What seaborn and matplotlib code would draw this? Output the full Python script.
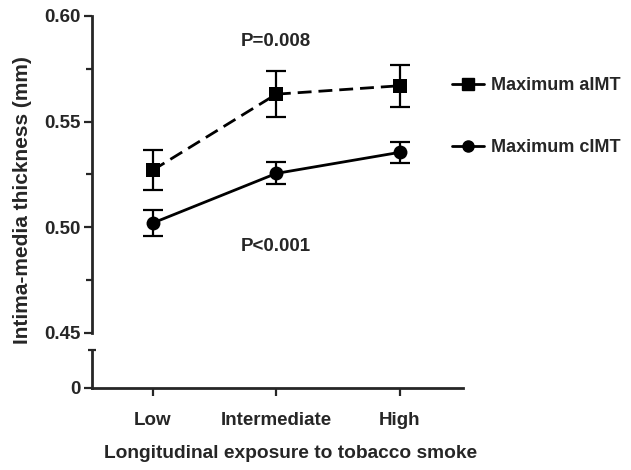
import matplotlib
matplotlib.use("Agg")
import matplotlib.pyplot as plt
import seaborn as sns
import pandas as pd
from matplotlib.lines import Line2D

# data (mean +/- SEM, mm)
exposure = ["Low", "Intermediate", "High"]
aimt_mean = [0.527, 0.563, 0.567]
aimt_err = [0.0095, 0.011, 0.010]
cimt_mean = [0.502, 0.5255, 0.5355]
cimt_err = [0.006, 0.0052, 0.005]
p_labels = ["P=0.008", "P<0.001"]

sns.set_style("ticks")
plt.rcParams["font.family"] = ["Liberation Sans", "DejaVu Sans"]
plt.rcParams["font.weight"] = "bold"

df = pd.DataFrame({
    "exposure": exposure * 2,
    "imt": aimt_mean + cimt_mean,
    "err": aimt_err + cimt_err,
    "series": ["Maximum aIMT"] * 3 + ["Maximum cIMT"] * 3,
})

fig = plt.figure(figsize=(6.31, 4.70), dpi=100)
# broken y axis: upper panel 0.45-0.60, small lower panel holding the 0
ax = fig.add_axes([0.1458, 0.2915, 0.588, 0.6745])
ax_low = fig.add_axes([0.1458, 0.1745, 0.588, 0.0809], sharex=ax)

styles = {"Maximum aIMT": ("s", (0, (5, 2.5))), "Maximum cIMT": ("o", "-")}
for name, sub in df.groupby("series"):
    mk, ls = styles[name]
    sns.lineplot(data=sub, x="exposure", y="imt", ax=ax, color="black",
                 marker=mk, markersize=10, linewidth=2, linestyle=ls,
                 markeredgewidth=0, legend=False, sort=False)
    ax.errorbar(sub["exposure"], sub["imt"], yerr=sub["err"], fmt="none",
                ecolor="black", elinewidth=1.6, capsize=7, capthick=1.6)

ax.set_xlim(-0.49, 2.51)
ax.set_ylim(0.45, 0.60)
ax.set_yticks([0.45, 0.50, 0.55, 0.60])
ax.set_yticklabels(["0.45", "0.50", "0.55", "0.60"])
ax.set_yticks([0.475, 0.525, 0.575], minor=True)
ax.tick_params(axis="y", which="major", length=6, width=1.6, labelsize=13.5, pad=2)
ax.tick_params(axis="y", which="minor", length=4, width=1.6)
ax.tick_params(axis="x", bottom=False, labelbottom=False)
for s in ["top", "right", "bottom"]:
    ax.spines[s].set_visible(False)
ax.spines["left"].set_linewidth(2)
ax.set_xlabel("")
ax.set_ylabel("")

ax_low.set_ylim(0, 1)
ax_low.set_yticks([0])
ax_low.set_yticklabels(["0"])
ax_low.set_yticks([1], minor=True)
ax_low.tick_params(axis="y", which="major", length=6, width=1.6, labelsize=13.5, pad=2)
ax_low.tick_params(axis="y", which="minor", length=6, width=1.6, direction="inout")
ax_low.tick_params(axis="x", length=6, width=1.6, labelsize=13.5, pad=11)
for s in ["top", "right"]:
    ax_low.spines[s].set_visible(False)
ax_low.spines["left"].set_linewidth(2)
ax_low.spines["bottom"].set_linewidth(2)
ax_low.set_xlabel("Longitudinal exposure to tobacco smoke", fontsize=13.8,
                  fontweight="bold", labelpad=12)
ax_low.xaxis.label.set_x(0.536)
ax_low.set_ylabel("")

fig.text(0.035, 0.574, "Intima-media thickness (mm)", rotation=90,
         ha="center", va="center", fontsize=15, fontweight="bold")

ax.text(1, 0.5877, p_labels[0], ha="center", va="center", fontsize=13.5, fontweight="bold")
ax.text(1, 0.4907, p_labels[1], ha="center", va="center", fontsize=13.5, fontweight="bold")

handles = [
    Line2D([], [], color="black", marker="s", markersize=8, linewidth=2),
    Line2D([], [], color="black", marker="o", markersize=8, linewidth=2),
]
fig.legend(handles, ["Maximum aIMT", "Maximum cIMT"], loc="upper left",
           bbox_to_anchor=(0.69, 0.87), frameon=False, fontsize=13,
           handlelength=1.8, handletextpad=0.4, labelspacing=2.5)

fig.savefig("out.png", dpi=100)
